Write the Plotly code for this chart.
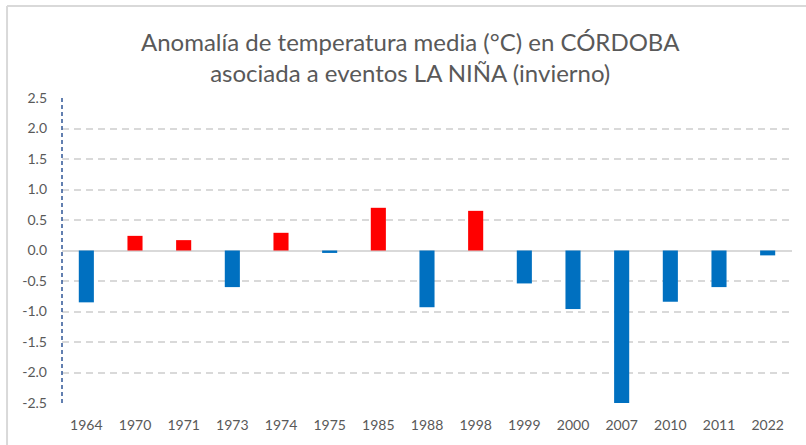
import plotly.graph_objects as go

# Winter mean-temperature anomalies (°C) in Córdoba during La Niña years
years = ["1964", "1970", "1971", "1973", "1974", "1975", "1985", "1988",
         "1998", "1999", "2000", "2007", "2010", "2011", "2022"]
anomalies = [-0.85, 0.24, 0.17, -0.60, 0.29, -0.04, 0.70, -0.93,
             0.65, -0.54, -0.96, -2.50, -0.84, -0.60, -0.08]
y_ticks = [2.5, 2.0, 1.5, 1.0, 0.5, 0.0, -0.5, -1.0, -1.5, -2.0, -2.5]

WARM = "#FF0000"
COLD = "#0070C0"
bar_colors = [WARM if v > 0 else COLD for v in anomalies]

FONT = "Lato, sans-serif"
TEXT = "#595959"
GRID = "#D9D9D9"

fig = go.Figure(
    go.Bar(
        x=years,
        y=anomalies,
        marker=dict(color=bar_colors, line=dict(width=0)),
        width=0.31,
        hoverinfo="x+y",
    )
)

fig.update_layout(
    width=806,
    height=445,
    margin=dict(l=62, r=14, t=98, b=42),
    paper_bgcolor="white",
    plot_bgcolor="white",
    showlegend=False,
    xaxis=dict(
        type="category",
        showgrid=False,
        showline=False,
        zeroline=False,
        ticks="",
        ticklabelstandoff=12,
        tickfont=dict(family=FONT, size=14, color=TEXT),
    ),
    yaxis=dict(
        range=[-2.5, 2.5],
        tickvals=y_ticks,
        ticktext=[f"{v:.1f}" for v in y_ticks],
        showgrid=True,
        gridcolor=GRID,
        gridwidth=2,
        griddash="7px,5px",
        zeroline=True,
        zerolinecolor=GRID,
        zerolinewidth=1.5,
        showline=False,
        ticks="",
        ticklabelstandoff=14,
        tickfont=dict(family=FONT, size=14, color=TEXT),
    ),
    annotations=[
        dict(
            text="Anomalía de temperatura media (°C) en CÓRDOBA<br>asociada a eventos LA NIÑA (invierno)",
            font=dict(family=FONT, size=24, color=TEXT),
            xref="paper", yref="paper",
            x=(410 - 62) / 730, y=(403 - 57) / 305,
            xanchor="center", yanchor="middle",
            showarrow=False,
        )
    ],
    shapes=[
        # dashed vertical value axis
        dict(type="line", xref="paper", yref="paper", x0=0, x1=0, y0=0, y1=1,
             line=dict(color="#2F5597", width=1.5, dash="4px,3px")),
        # light frame along the top and left of the chart
        dict(type="line", xref="paper", yref="paper", x0=-0.0753, x1=1.1,
             y0=1.3016, y1=1.3016, line=dict(color=GRID, width=2)),
        dict(type="line", xref="paper", yref="paper", x0=-0.0753, x1=-0.0753,
             y0=-0.3, y1=1.3016, line=dict(color=GRID, width=2)),
    ],
)

fig.write_html("out.html")
